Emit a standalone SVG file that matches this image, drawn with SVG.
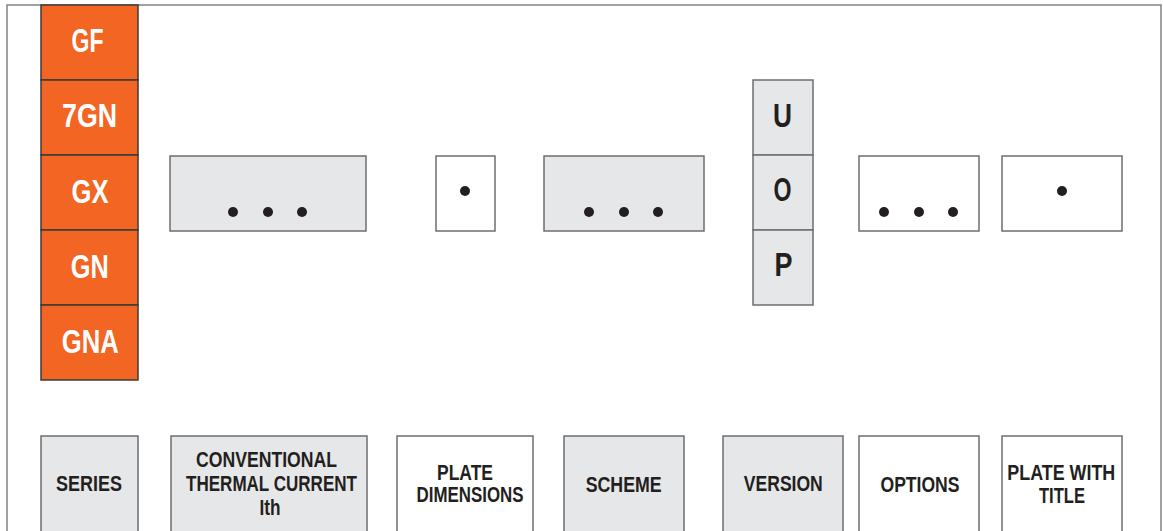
<svg xmlns="http://www.w3.org/2000/svg" width="1163" height="531" viewBox="0 0 1163 531">
<style>
.frame{fill:none;stroke:#808285;stroke-width:1.5}
.or{fill:#f26522;stroke:#3a3a3a;stroke-width:1.5}
.g{fill:#e6e7e8;stroke:#6d6e71;stroke-width:1.5}
.w{fill:#ffffff;stroke:#6d6e71;stroke-width:1.5}
text{font-family:"Liberation Sans",Arial,sans-serif;font-weight:bold;text-anchor:middle}
.ot{fill:#ffffff;font-size:33px}
.lt{fill:#231f20;font-size:33px}
.bt{fill:#231f20;font-size:22px}
.dot{fill:#231f20}
</style>
<rect width="1163" height="531" fill="#ffffff"/>
<path class="frame" d="M7,531 V5 H1161 V531"/>
<g id="series-codes">
<rect class="or" x="41" y="5" width="97" height="75"/>
<rect class="or" x="41" y="80" width="97" height="75"/>
<rect class="or" x="41" y="155" width="97" height="75"/>
<rect class="or" x="41" y="230" width="97" height="75"/>
<rect class="or" x="41" y="305" width="97" height="75"/>
<text class="ot" x="87.5" y="52" textLength="32" lengthAdjust="spacingAndGlyphs">GF</text>
<text class="ot" x="89.5" y="127" textLength="55" lengthAdjust="spacingAndGlyphs">7GN</text>
<text class="ot" x="90" y="203" textLength="37" lengthAdjust="spacingAndGlyphs">GX</text>
<text class="ot" x="89.7" y="278" textLength="38" lengthAdjust="spacingAndGlyphs">GN</text>
<text class="ot" x="90.2" y="353" textLength="57" lengthAdjust="spacingAndGlyphs">GNA</text>
</g>
<g id="current-box">
<rect class="g" x="170" y="156" width="196" height="75"/>
<circle class="dot" cx="233" cy="212" r="5"/>
<circle class="dot" cx="268" cy="212" r="5"/>
<circle class="dot" cx="302" cy="212" r="5"/>
</g>
<g id="plate-box">
<rect class="w" x="436" y="156" width="59" height="75"/>
<circle class="dot" cx="465" cy="191" r="5"/>
</g>
<g id="scheme-box">
<rect class="g" x="544" y="156" width="160" height="75"/>
<circle class="dot" cx="589" cy="212" r="5"/>
<circle class="dot" cx="624" cy="212" r="5"/>
<circle class="dot" cx="658" cy="212" r="5"/>
</g>
<g id="version-codes">
<rect class="g" x="753" y="80" width="60" height="75"/>
<rect class="g" x="753" y="155" width="60" height="75"/>
<rect class="g" x="753" y="230" width="60" height="75"/>
<text class="lt" x="782.5" y="127" textLength="19" lengthAdjust="spacingAndGlyphs">U</text>
<text class="lt" x="782.5" y="201" textLength="18" lengthAdjust="spacingAndGlyphs">O</text>
<text class="lt" x="783.5" y="276" textLength="18" lengthAdjust="spacingAndGlyphs">P</text>
</g>
<g id="options-box">
<rect class="w" x="859" y="156" width="120" height="75"/>
<circle class="dot" cx="884" cy="212" r="5"/>
<circle class="dot" cx="919" cy="212" r="5"/>
<circle class="dot" cx="953" cy="212" r="5"/>
</g>
<g id="title-box">
<rect class="w" x="1002" y="156" width="120" height="75"/>
<circle class="dot" cx="1062" cy="191" r="5"/>
</g>
<g id="label-series">
<rect class="g" x="41" y="436" width="97" height="110"/>
<text class="bt" x="89" y="491" textLength="66" lengthAdjust="spacingAndGlyphs">SERIES</text>
</g>
<g id="label-current">
<rect class="g" x="171" y="436" width="196" height="110"/>
<text class="bt" x="266.5" y="467" textLength="141" lengthAdjust="spacingAndGlyphs">CONVENTIONAL</text>
<text class="bt" x="271.5" y="491" textLength="171" lengthAdjust="spacingAndGlyphs">THERMAL CURRENT</text>
<text class="bt" x="270" y="515" textLength="21" lengthAdjust="spacingAndGlyphs">Ith</text>
</g>
<g id="label-plate">
<rect class="w" x="397" y="436" width="136" height="110"/>
<text class="bt" x="465" y="480" textLength="56" lengthAdjust="spacingAndGlyphs">PLATE</text>
<text class="bt" x="470" y="501.5" textLength="107" lengthAdjust="spacingAndGlyphs">DIMENSIONS</text>
</g>
<g id="label-scheme">
<rect class="g" x="564" y="436" width="120" height="110"/>
<text class="bt" x="623.7" y="491.5" textLength="76" lengthAdjust="spacingAndGlyphs">SCHEME</text>
</g>
<g id="label-version">
<rect class="g" x="723" y="436" width="120" height="110"/>
<text class="bt" x="783.3" y="491" textLength="79" lengthAdjust="spacingAndGlyphs">VERSION</text>
</g>
<g id="label-options">
<rect class="w" x="859" y="436" width="120" height="110"/>
<text class="bt" x="920" y="491.5" textLength="79" lengthAdjust="spacingAndGlyphs">OPTIONS</text>
</g>
<g id="label-title">
<rect class="w" x="1002" y="436" width="120" height="110"/>
<text class="bt" x="1061.3" y="479.5" textLength="108" lengthAdjust="spacingAndGlyphs">PLATE WITH</text>
<text class="bt" x="1062" y="503.3" textLength="46" lengthAdjust="spacingAndGlyphs">TITLE</text>
</g>
<g id="connectors"/>
</svg>
